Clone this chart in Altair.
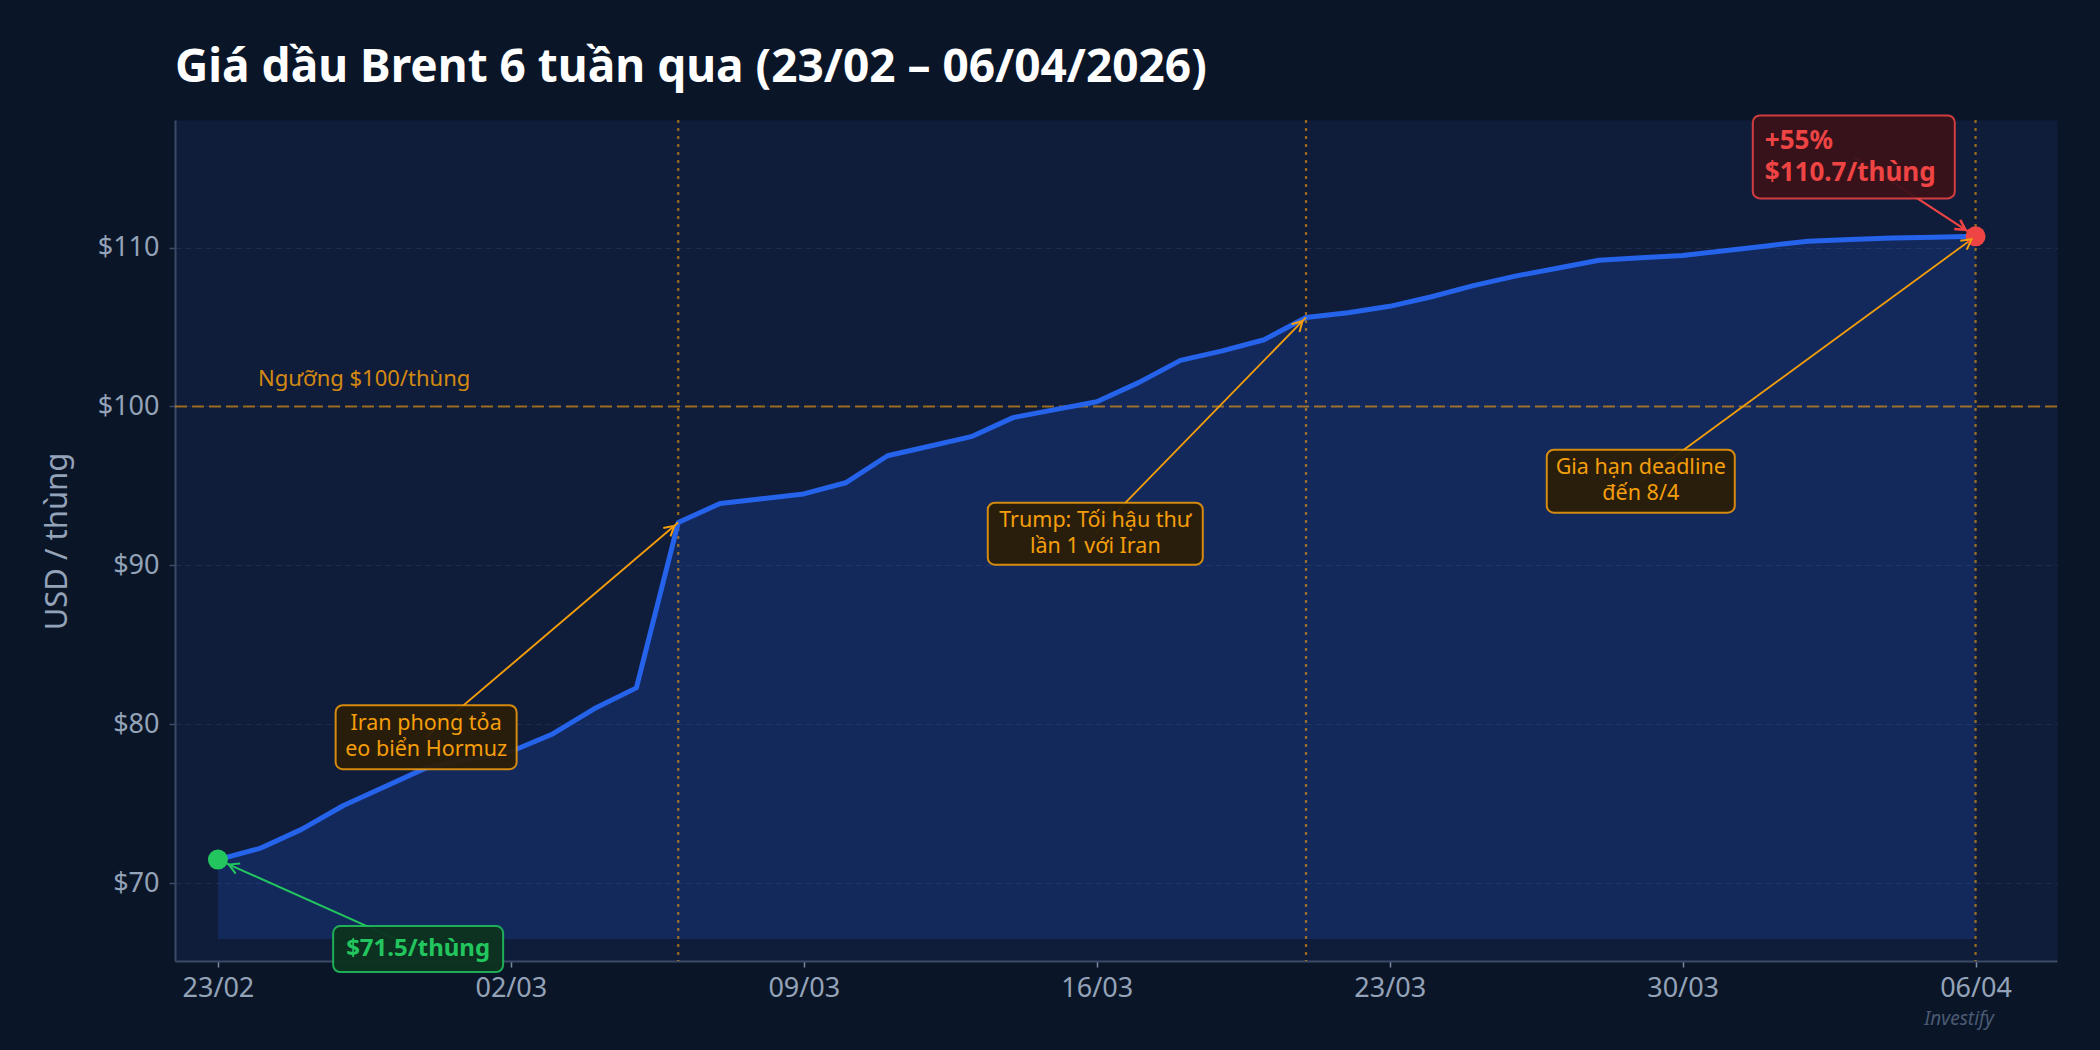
import math

import altair as alt
import pandas as pd

# ---------------------------------------------------------------- data
TITLE = "Giá dầu Brent 6 tuần qua (23/02 – 06/04/2026)"
Y_TITLE = "USD / thùng"
SOURCE = "Investify"

dates = pd.date_range("2026-02-23", "2026-04-06", freq="D").strftime("%Y-%m-%d").tolist()
prices = [
    71.5, 72.2, 73.4, 74.9, 76.1, 77.3, 77.8, 78.3, 79.4, 81.0, 82.3,
    92.7, 93.9, 94.2, 94.5, 95.2, 96.9, 97.5, 98.1, 99.3, 99.8, 100.3,
    101.5, 102.9, 103.5, 104.2, 105.6, 105.9, 106.3, 106.9, 107.6, 108.2,
    108.7, 109.2, 109.35, 109.5, 109.8, 110.1, 110.4, 110.5, 110.6, 110.65,
    110.7,
]

x_ticks = ["2026-02-23", "2026-03-02", "2026-03-09", "2026-03-16",
           "2026-03-23", "2026-03-30", "2026-04-06"]
y_ticks = [70, 80, 90, 100, 110]

threshold = 100
threshold_label = "Ngưỡng $100/thùng"
threshold_label_date = "2026-02-23T23:00:00Z"
threshold_label_value = 101.7

event_dates = ["2026-03-06", "2026-03-21", "2026-04-06"]
event_labels = ["Iran phong tỏa\neo biển Hormuz",
                "Trump: Tối hậu thư\nlần 1 với Iran",
                "Gia hạn deadline\nđến 8/4"]
event_label_dates = ["2026-02-27T23:25:00Z", "2026-03-15T23:10:00Z",
                     "2026-03-29T00:00:00Z"]
event_label_values = [79.2, 92.0, 95.3]

start_label_date, start_label_value = "2026-02-27T18:50:00Z", 65.87
end_label_date, end_label_value = "2026-04-03T02:10:00Z", 115.7

# ---------------------------------------------------------------- view
W, H = 1882, 841
X_DOMAIN = ("2026-02-21T23:24:00", "2026-04-07T22:42:00")
Y_DOMAIN = (65.12, 118.02)

BG = "#0a1628"
PLOT_BG = "#0f1c3a"
BLUE = "#2563eb"
AMBER = "#f59e0b"
GREEN = "#22c55e"
RED = "#ef4444"
MUTED = "#94a3b8"
FONT = "Noto Sans"

# open arrow head, tip at the origin, pointing up before rotation
CHEVRON = "M -0.5 0.9 L 0 0 L 0.5 0.9"


def ts(s):
    return pd.Timestamp(s.rstrip("Z"))


def dt(s):
    t = ts(s)
    return alt.DateTime(year=t.year, month=t.month, date=t.day,
                        hours=t.hour, minutes=t.minute, utc=True)


T0, T1 = ts(X_DOMAIN[0]), ts(X_DOMAIN[1])


def to_px(d, v):
    x = (ts(d) - T0) / (T1 - T0) * W
    y = (Y_DOMAIN[1] - v) / (Y_DOMAIN[1] - Y_DOMAIN[0]) * H
    return x, y


x_scale = alt.Scale(type="utc", domain=[dt(X_DOMAIN[0]), dt(X_DOMAIN[1])], nice=False)
y_scale = alt.Scale(domain=list(Y_DOMAIN), nice=False, zero=False)

x_axis = alt.Axis(
    values=[dt(d) for d in x_ticks], format="%d/%m", title=None, grid=False,
    labelFontSize=27, labelColor=MUTED, labelFont=FONT, labelPadding=8,
    tickSize=6, tickColor="#7b8aa3", tickWidth=1.5,
    domainColor="#3b4a66", domainWidth=2,
)
y_axis = alt.Axis(
    values=y_ticks, format="$.0f", title=Y_TITLE, grid=True,
    gridColor="#2c3d60", gridOpacity=0.55, gridDash=[6, 4], gridWidth=1,
    labelFontSize=27, labelColor=MUTED, labelFont=FONT, labelPadding=10,
    tickSize=6, tickColor="#3b4a66", tickWidth=1.5,
    domainColor="#3b4a66", domainWidth=2,
    titleFontSize=31, titleColor=MUTED, titleFont=FONT, titleFontWeight="normal",
    titleX=-118, titleY=421, titleAngle=270, titleAlign="center",
    titleBaseline="middle",
)


def X(field, **kw):
    return alt.X(field, type="temporal", scale=x_scale, axis=x_axis, **kw)


def Y(field, **kw):
    return alt.Y(field, type="quantitative", scale=y_scale, axis=y_axis, **kw)


# ---------------------------------------------------------------- series
price_df = pd.DataFrame({"date": dates, "price": prices})
price_df["floor"] = min(prices) - 5

area = alt.Chart(price_df).mark_area(color=BLUE, opacity=0.19).encode(
    x=X("date"), y=Y("price"), y2="floor:Q"
)
line = alt.Chart(price_df).mark_line(
    color=BLUE, strokeWidth=5, strokeJoin="round", strokeCap="round"
).encode(x=X("date"), y=Y("price"))

threshold_rule = alt.Chart(pd.DataFrame({"v": [threshold]})).mark_rule(
    color=AMBER, opacity=0.6, strokeWidth=2, strokeDash=[12, 5]
).encode(y=Y("v"))

threshold_text = alt.Chart(pd.DataFrame({
    "d": [threshold_label_date], "v": [threshold_label_value], "t": [threshold_label]
})).mark_text(
    align="left", baseline="middle", fontSize=22, font=FONT, color=AMBER, opacity=0.85
).encode(x=X("d"), y=Y("v"), text="t:N")

event_rules = alt.Chart(pd.DataFrame({"date": event_dates})).mark_rule(
    color=AMBER, opacity=0.6, strokeWidth=2.2, strokeDash=[3, 5]
).encode(x=X("date"))

price_on = dict(zip(dates, prices))


def callout(label, tx, ty, px, py, box_w, box_h, fill, stroke, text_color,
            font_size, weight, line_h, gap, align="center", text_dx=0,
            line_w=2, head_w=2):
    df = pd.DataFrame({"tx": [tx], "ty": [ty], "px": [px], "py": [py], "label": [label]})
    base = alt.Chart(df)
    x0, y0 = to_px(tx, ty)
    x1, y1 = to_px(px, py)
    dx, dy = x1 - x0, y1 - y0
    n = math.hypot(dx, dy)
    ux, uy = dx / n, dy / n
    angle = math.degrees(math.atan2(dx, -dy)) % 360
    # centre a multi-line block on its anchor
    text_dy = -(label.count("\n")) * line_h / 2
    arrow = base.mark_rule(color=stroke, strokeWidth=line_w).encode(
        x=X("tx"), y=Y("ty"), x2="px:T", y2="py:Q"
    )
    box = base.mark_rect(
        width=box_w, height=box_h, cornerRadius=7, fill=fill, fillOpacity=0.95,
        stroke=stroke, strokeOpacity=0.85, strokeWidth=2
    ).encode(x=X("tx"), y=Y("ty"))
    text = base.mark_text(
        align=align, baseline="middle", dx=text_dx, dy=text_dy, fontSize=font_size,
        fontWeight=weight, font=FONT, color=text_color, lineBreak="\n",
        lineHeight=line_h
    ).encode(x=X("tx"), y=Y("ty"), text="label:N")
    head = base.mark_point(
        shape=CHEVRON, size=484, filled=False, color=stroke, strokeWidth=head_w,
        opacity=1, angle=angle, xOffset=-gap * ux, yOffset=-gap * uy
    ).encode(x=X("px"), y=Y("py"))
    return [arrow, box, text], head


layers = [area, threshold_rule, event_rules, line, threshold_text]
heads = []

box_sizes = [(181, 64), (215, 62), (188, 63)]
for lab, d, ld, lv, (bw, bh) in zip(event_labels, event_dates, event_label_dates,
                                    event_label_values, box_sizes):
    parts, head = callout(lab, ld, lv, d, price_on[d], bw, bh, "#2a1e07", AMBER,
                          AMBER, 21.5, "normal", 26, 5, line_w=1.8)
    layers += parts
    heads.append(head)

start_text = f"${prices[0]:.1f}/thùng"
parts, head = callout(start_text, start_label_date, start_label_value, dates[0],
                      prices[0], 170, 46, "#0d3320", GREEN, GREEN, 24, "bold",
                      30, 12)
layers += parts
heads.append(head)

change = round((prices[-1] / prices[0] - 1) * 100)
end_text = f"+{change}%\n${prices[-1]:.1f}/thùng"
parts, head = callout(end_text, end_label_date, end_label_value, dates[-1],
                      prices[-1], 202, 83, "#3a1219", RED, RED, 26, "bold",
                      32, 12, align="left", text_dx=-89, line_w=2.2, head_w=2.5)
layers += parts
heads.append(head)

ends = pd.DataFrame({"date": [dates[0], dates[-1]], "price": [prices[0], prices[-1]],
                     "kind": ["start", "end"]})
dots = alt.Chart(ends).mark_circle(size=400, opacity=1).encode(
    x=X("date"), y=Y("price"),
    color=alt.Color("kind:N", scale=alt.Scale(domain=["start", "end"], range=[GREEN, RED]),
                    legend=None),
)
layers += [dots] + heads

title = alt.Chart(pd.DataFrame({"t": [TITLE]})).mark_text(
    align="left", baseline="alphabetic", fontSize=46, fontWeight="bold",
    font=FONT, color="#ffffff"
).encode(x=alt.value(0), y=alt.value(-38), text="t:N")

source = alt.Chart(pd.DataFrame({"t": [SOURCE]})).mark_text(
    align="right", baseline="alphabetic", fontSize=19, fontStyle="italic",
    font=FONT, color="#4b5a73"
).encode(x=alt.value(1819), y=alt.value(905), text="t:N")

layers += [title, source]

chart = alt.layer(*layers).properties(
    width=W, height=H, background=BG,
    padding={"left": 175, "top": 120, "right": 43, "bottom": 89},
    autosize=alt.AutoSizeParams(type="none"),
).configure_view(fill=PLOT_BG, stroke="transparent")

chart.save("out.html", embed_options={"renderer": "svg", "actions": False})
